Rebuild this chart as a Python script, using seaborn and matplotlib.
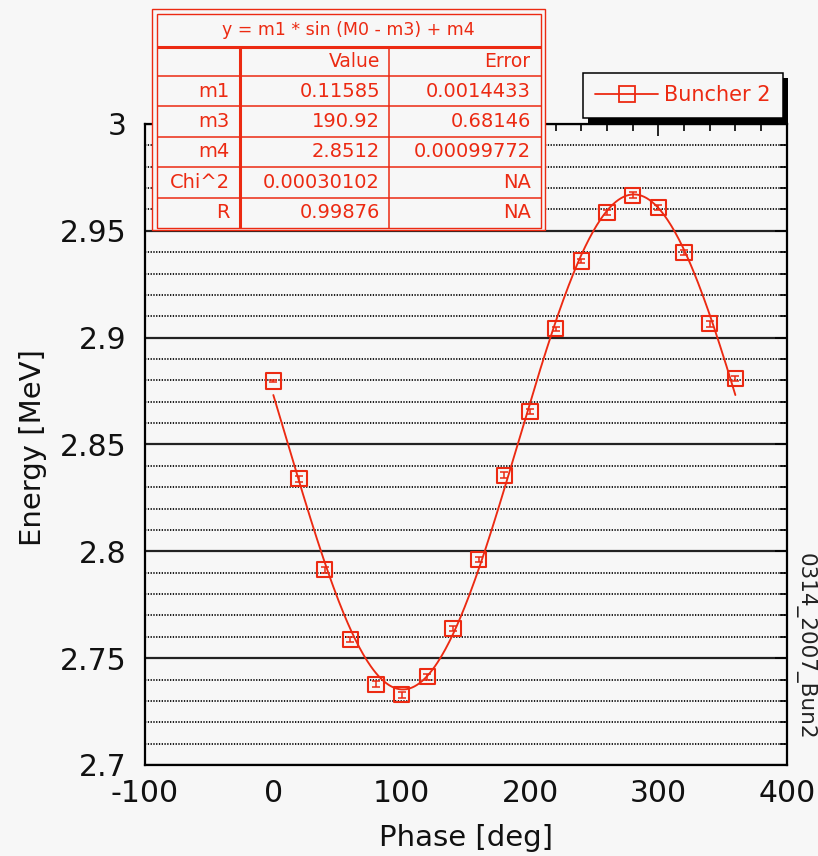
import numpy as np
import pandas as pd
import matplotlib
matplotlib.use("Agg")
import matplotlib.pyplot as plt
import seaborn as sns
from matplotlib.lines import Line2D
from matplotlib.patches import Rectangle
from matplotlib.ticker import MultipleLocator, FormatStrFormatter

# ---- measured data: Buncher 2 phase scan ----
phase_deg = [0, 20, 40, 60, 80, 100, 120, 140, 160, 180,
             200, 220, 240, 260, 280, 300, 320, 340, 360]
energy_mev = [2.8797, 2.8339, 2.7914, 2.7587, 2.7378, 2.7328, 2.7413, 2.7637, 2.7962, 2.8356,
              2.8656, 2.9042, 2.9359, 2.9584, 2.9667, 2.9608, 2.9398, 2.9066, 2.8808]
energy_err = [0.0005, 0.0015, 0.0015, 0.0012, 0.0014, 0.0014, 0.0015, 0.0012, 0.0013, 0.0013,
              0.0012, 0.0010, 0.0011, 0.0012, 0.0013, 0.0012, 0.0011, 0.0014, 0.0012]

# ---- sine fit result  y = m1 * sin(M0 - m3) + m4 ----
fit_formula = "y = m1 * sin (M0 - m3) + m4"
fit_params = ["m1", "m3", "m4"]
fit_values = [0.11585, 190.92, 2.8512]
table_rows = ["m1", "m3", "m4", "Chi^2", "R"]
table_value_text = ["0.11585", "190.92", "2.8512", "0.00030102", "0.99876"]
table_error_text = ["0.0014433", "0.68146", "0.00099772", "NA", "NA"]
table_header = ["", "Value", "Error"]

series_label = "Buncher 2"
run_tag = "0314_2007_Bun2"

BG = "#f7f7f7"
RED = "#ec2a12"
W, H = 818, 856

sns.set_theme(style="white")
plt.rcParams["font.family"] = ["DejaVu Sans"]
plt.rcParams["axes.edgecolor"] = "black"

fig = plt.figure(figsize=(W / 100, H / 100), dpi=100, facecolor=BG)


def px_box(x0, y0, x1, y1):
    return [x0 / W, 1 - y1 / H, (x1 - x0) / W, (y1 - y0) / H]


ax = fig.add_axes(px_box(145, 124, 786.7, 765))
ax.set_facecolor(BG)

# fitted curve evaluated from the tabulated parameters
m1, m3, m4 = fit_values
phase_grid = np.linspace(0, 360, 361)
fit_df = pd.DataFrame({"phase": phase_grid,
                       "energy": m1 * np.sin(np.deg2rad(phase_grid - m3)) + m4})
data_df = pd.DataFrame({"phase": phase_deg, "energy": energy_mev})

sns.lineplot(data=fit_df, x="phase", y="energy", color=RED, lw=1.35, ax=ax, zorder=3)
ax.errorbar(phase_deg, energy_mev, yerr=energy_err, fmt="none", ecolor=RED,
            elinewidth=1.1, capsize=3.0, capthick=1.1, zorder=4)
sns.scatterplot(data=data_df, x="phase", y="energy", marker="s", s=118,
                facecolor="none", edgecolor=RED, linewidth=1.5, ax=ax, zorder=5)

# axes, ticks and grid
ax.set_xlim(-100, 400)
ax.set_ylim(2.7, 3.0)
ax.xaxis.set_major_locator(MultipleLocator(100))
ax.xaxis.set_minor_locator(MultipleLocator(20))
ax.yaxis.set_major_locator(MultipleLocator(0.05))
ax.yaxis.set_minor_locator(MultipleLocator(0.01))
ax.yaxis.set_major_formatter(FormatStrFormatter("%g"))
ax.xaxis.set_major_formatter(FormatStrFormatter("%g"))
ax.yaxis.grid(True, which="major", color="#222222", lw=1.6, ls="-", zorder=1)
ax.yaxis.grid(True, which="minor", color="#000000", lw=1.25, ls=(0, (0.75, 0.85)), zorder=1)
ax.set_axisbelow(True)
ax.tick_params(which="both", direction="in", top=True, right=True,
               width=1.2, color="black", labelcolor="#111111")
ax.tick_params(which="major", length=8.5, labelsize=21.5)
ax.tick_params(which="minor", length=5)
ax.tick_params(axis="x", which="major", pad=10)
ax.tick_params(axis="y", which="major", pad=13.5)
for sp in ax.spines.values():
    sp.set_linewidth(1.6)
    sp.set_color("black")
    sp.set_visible(True)

ax.set_xlabel("Phase [deg]", fontsize=21, color="#111111")
ax.set_ylabel("Energy [MeV]", fontsize=21, color="#111111")
ax.xaxis.set_label_coords(0.5, -0.092)
ax.yaxis.set_label_coords(-0.153, 0.495)

# legend with a hard black drop shadow
handle = Line2D([], [], color=RED, lw=1.3, marker="s", ms=11,
                mfc="none", mec=RED, mew=1.3)
leg = ax.legend([handle], [series_label], loc="upper right",
                bbox_to_anchor=(783 / W, 1 - 72.7 / H), bbox_transform=fig.transFigure,
                borderaxespad=0, frameon=True, fancybox=False, framealpha=1,
                facecolor=BG, edgecolor="black", fontsize=15, labelcolor=RED,
                handlelength=3.0, handletextpad=0.3, borderpad=0.6)
leg.get_frame().set_linewidth(1.1)
leg.set_zorder(20)

# run tag on the right margin
fig.text(805 / W, 1 - 646.7 / H, run_tag, rotation=-90, ha="center", va="center",
         fontsize=15.5, color="#222222")

# fit-results table drawn in an overlay in pixel units
tab = fig.add_axes([0, 0, 1, 1], zorder=10)
tab.set_xlim(0, W)
tab.set_ylim(H, 0)
tab.axis("off")
tab.patch.set_visible(False)

ox0, oy0, ox1, oy1 = 152, 9.3, 545, 230
ix0, iy0, ix1, iy1 = 156.5, 14, 540.7, 227.7
tab.add_patch(Rectangle((ox0, oy0), ox1 - ox0, oy1 - oy0, facecolor=BG,
                        edgecolor=RED, lw=1.0))
tab.add_patch(Rectangle((ix0, iy0), ix1 - ix0, iy1 - iy0, facecolor="none",
                        edgecolor=RED, lw=1.0))
head_y = 46.7
row_lines = [76, 106, 136.7, 166.7, 197.7]
col_label, col_value = 240, 389
tab.plot([ix0, ix1], [head_y, head_y], color=RED, lw=2.2, solid_capstyle="butt")
for yl in row_lines:
    tab.plot([ix0, ix1], [yl, yl], color=RED, lw=1.1, solid_capstyle="butt")
tab.plot([col_label, col_label], [head_y, iy1], color=RED, lw=2.2, solid_capstyle="butt")
tab.plot([col_value, col_value], [head_y, iy1], color=RED, lw=1.1, solid_capstyle="butt")

tab.text((ix0 + ix1) / 2, (iy0 + head_y) / 2, fit_formula, ha="center", va="center",
         fontsize=12.5, color=RED)
edges = [head_y] + row_lines + [iy1]
centers = [(a + b) / 2 for a, b in zip(edges[:-1], edges[1:])]
right_x = [col_label - 10, col_value - 9, ix1 - 10]
for j, txt in enumerate(table_header):
    tab.text(right_x[j], centers[0], txt, ha="right", va="center", fontsize=13.5, color=RED)
for i, (lab, val, err) in enumerate(zip(table_rows, table_value_text, table_error_text)):
    yc = centers[i + 1]
    for j, txt in enumerate([lab, val, err]):
        tab.text(right_x[j], yc, txt, ha="right", va="center", fontsize=14, color=RED)

# place the shadow once the legend geometry is known
fig.canvas.draw()
bb = leg.get_window_extent()
fig.add_artist(Rectangle((bb.x0 + 5, bb.y0 - 5), bb.width, bb.height, transform=None,
                         facecolor="black", edgecolor="none", zorder=-1))

fig.savefig("out.png", dpi=100, facecolor=BG)
